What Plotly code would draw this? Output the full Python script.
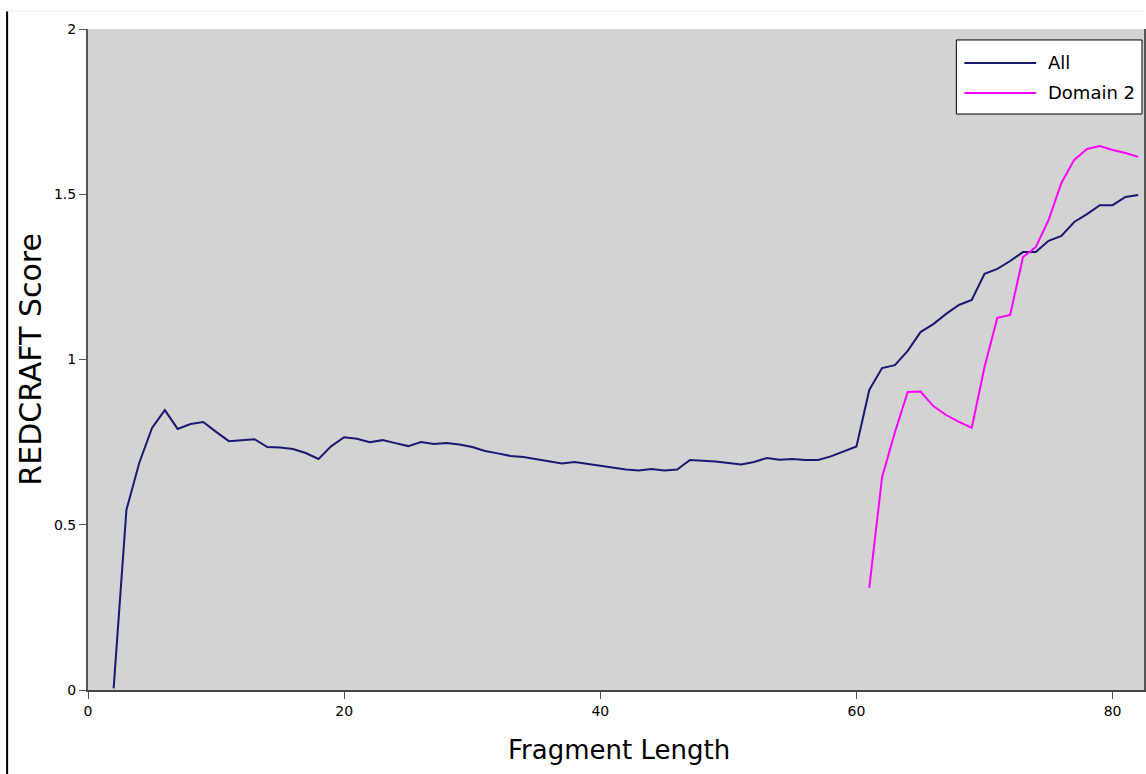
import plotly.graph_objects as go

x_all = list(range(2, 83))
y_all = [0.005, 0.545, 0.687, 0.793, 0.847, 0.790, 0.805, 0.811, 0.781, 0.753,
         0.756, 0.759, 0.735, 0.734, 0.729, 0.717, 0.699, 0.738, 0.765, 0.760,
         0.750, 0.756, 0.747, 0.738, 0.750, 0.744, 0.747, 0.743, 0.735, 0.723,
         0.716, 0.708, 0.705, 0.699, 0.693, 0.685, 0.690, 0.684, 0.679, 0.673,
         0.667, 0.664, 0.669, 0.664, 0.667, 0.696, 0.694, 0.691, 0.687, 0.682,
         0.690, 0.702, 0.697, 0.699, 0.696, 0.696, 0.707, 0.723, 0.737, 0.908,
         0.974, 0.983, 1.026, 1.083, 1.107, 1.138, 1.165, 1.180, 1.259, 1.274,
         1.298, 1.325, 1.325, 1.359, 1.374, 1.416, 1.440, 1.467, 1.467, 1.492,
         1.498]

x_d2 = list(range(61, 83))
y_d2 = [0.309, 0.644, 0.780, 0.902, 0.903, 0.859, 0.832, 0.811, 0.793, 0.977,
        1.126, 1.135, 1.310, 1.340, 1.422, 1.534, 1.604, 1.637, 1.646, 1.634,
        1.625, 1.613]

series_names = ["All", "Domain 2"]
series_colors = ["#191970", "#ff00ff"]

x_ticks = [0, 20, 40, 60, 80]
y_ticks = [0, 0.5, 1, 1.5, 2]
y_tick_text = ["0", "0.5", "1", "1.5", "2"]

fig = go.Figure()
fig.add_trace(go.Scatter(x=x_all, y=y_all, mode="lines", name=series_names[0],
                         line=dict(color=series_colors[0], width=2)))
fig.add_trace(go.Scatter(x=x_d2, y=y_d2, mode="lines", name=series_names[1],
                         line=dict(color=series_colors[1], width=2)))

fig.update_layout(
    width=1146, height=774,
    margin=dict(l=88, r=0, t=29, b=84),
    paper_bgcolor="white",
    plot_bgcolor="#d3d3d3",
    font=dict(family="DejaVu Sans", color="black"),
    showlegend=False,
)
fig.update_xaxes(range=[0, 82.45], tickvals=x_ticks, ticks="outside", ticklen=7,
                 tickcolor="#555", showgrid=False, zeroline=False,
                 showline=True, linecolor="#444", linewidth=2,
                 tickfont=dict(size=14))
fig.update_yaxes(range=[0, 2], tickvals=y_ticks, ticktext=y_tick_text,
                 ticks="outside", ticklen=7, tickcolor="#555",
                 showgrid=False, zeroline=False,
                 showline=True, linecolor="#555", linewidth=2, mirror=True,
                 tickfont=dict(size=14))

# axis titles
fig.add_annotation(text="Fragment Length", xref="paper", yref="paper",
                   x=0.503, y=-0.0908, xanchor="center", yanchor="middle",
                   showarrow=False, font=dict(size=26))
fig.add_annotation(text="REDCRAFT Score", xref="paper", yref="paper",
                   x=-0.0548, y=0.5, xanchor="center", yanchor="middle",
                   textangle=-90, showarrow=False, font=dict(size=30))

# legend box
fig.add_shape(type="rect", xref="paper", yref="paper",
              x0=0.8223, x1=0.9981, y0=0.8714, y1=0.9834,
              fillcolor="white", line=dict(color="black", width=1))
leg_y = [0.9486, 0.9032]
for name, color, ly in zip(series_names, series_colors, leg_y):
    fig.add_shape(type="line", xref="paper", yref="paper",
                  x0=0.8299, x1=0.8979, y0=ly, y1=ly,
                  line=dict(color=color, width=2))
    fig.add_annotation(text=name, xref="paper", yref="paper",
                       x=0.9074, y=ly, xanchor="left", yanchor="middle",
                       showarrow=False, font=dict(size=18))

# frame artifacts
fig.add_shape(type="line", xref="paper", yref="paper",
              x0=-0.0766, x1=-0.0766, y0=1.027, y1=-0.13,
              line=dict(color="black", width=2))
fig.add_shape(type="line", xref="paper", yref="paper",
              x0=-0.0766, x1=1.0, y0=1.027, y1=1.027,
              line=dict(color="#f0f0f0", width=1))

fig.write_html("out.html")
